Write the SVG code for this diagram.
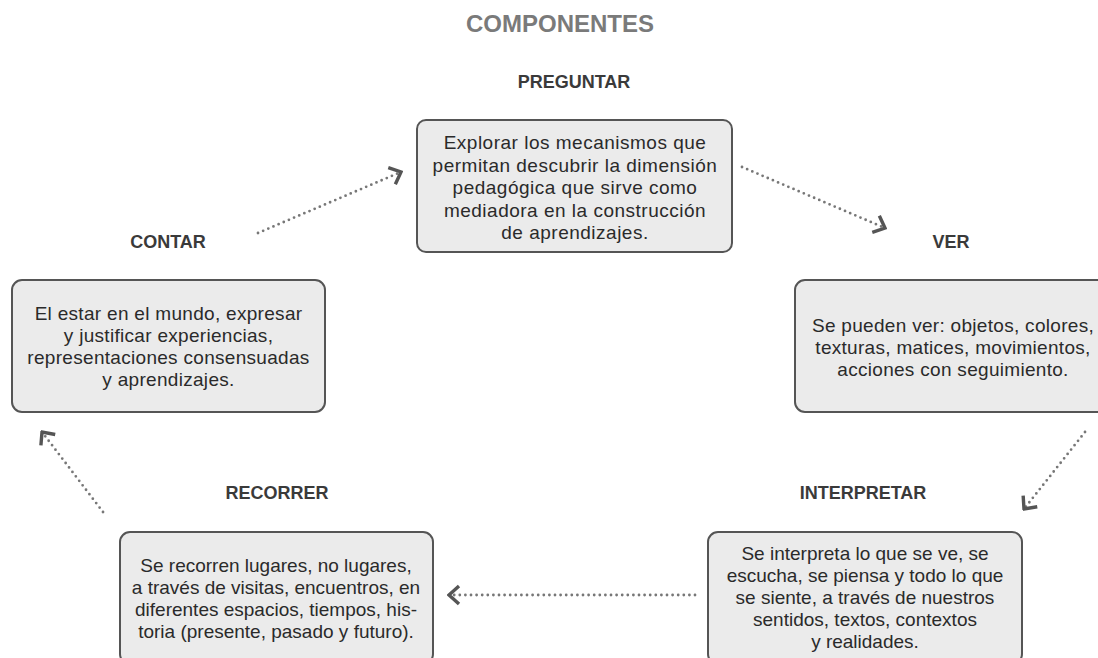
<svg xmlns="http://www.w3.org/2000/svg" width="1098" height="658" viewBox="0 0 1098 658">
<style>
.title{font-family:"Liberation Sans",Arial,sans-serif;font-weight:bold;font-size:24px;fill:#7a7a7a;text-anchor:middle}
.label{font-family:"Liberation Sans",Arial,sans-serif;font-weight:bold;font-size:18px;fill:#3a3a3a;text-anchor:middle}
.body{font-family:"Liberation Sans",Arial,sans-serif;font-size:19px;letter-spacing:0.5px;fill:#2a2a2a;text-anchor:middle}
.tight{letter-spacing:0.3px}
.tighter{letter-spacing:0px}
.box{fill:#ebebeb;stroke:#555;stroke-width:2}
.conn{fill:none;stroke:#777;stroke-width:2.8;stroke-linecap:round;stroke-dasharray:0 5.6}
</style>
<defs>
<marker id="chev" markerUnits="userSpaceOnUse" viewBox="-14 -12 16 24" markerWidth="16" markerHeight="24" refX="0" refY="0" orient="auto">
<path d="M-10,-9 L0,0 L-10,9" fill="none" stroke="#555" stroke-width="3.4" stroke-linejoin="miter"/>
</marker>
</defs>
<rect width="1098" height="658" fill="#fff"/>
<text class="title" x="560" y="32">COMPONENTES</text>

<g id="preguntar">
<text class="label" x="574" y="88">PREGUNTAR</text>
<rect class="box" x="417" y="120" width="315" height="132" rx="9"/>
<text class="body" x="575" y="149">Explorar los mecanismos que</text>
<text class="body" x="575" y="171.5">permitan descubrir la dimensión</text>
<text class="body" x="575" y="194">pedagógica que sirve como</text>
<text class="body" x="575" y="216.5">mediadora en la construcción</text>
<text class="body" x="575" y="239">de aprendizajes.</text>
</g>

<g id="contar">
<text class="label" x="168" y="248">CONTAR</text>
<rect class="box" x="12" y="280" width="313" height="132" rx="10"/>
<text class="body tight" x="168.5" y="320">El estar en el mundo, expresar</text>
<text class="body tight" x="168.5" y="342">y justificar experiencias,</text>
<text class="body tight" x="168.5" y="364">representaciones consensuadas</text>
<text class="body tight" x="168.5" y="386">y aprendizajes.</text>
</g>

<g id="ver">
<text class="label" x="951" y="248">VER</text>
<rect class="box" x="795" y="280" width="313" height="132" rx="10"/>
<text class="body tight" x="953" y="332">Se pueden ver: objetos, colores,</text>
<text class="body tight" x="953" y="354">texturas, matices, movimientos,</text>
<text class="body tight" x="953" y="376">acciones con seguimiento.</text>
</g>

<g id="recorrer">
<text class="label" x="277" y="499">RECORRER</text>
<rect class="box" x="120" y="532" width="313" height="132" rx="10"/>
<text class="body tighter" x="276" y="572">Se recorren lugares, no lugares,</text>
<text class="body tighter" x="276" y="594">a través de visitas, encuentros, en</text>
<text class="body tighter" x="276" y="616">diferentes espacios, tiempos, his-</text>
<text class="body tighter" x="276" y="638">toria (presente, pasado y futuro).</text>
</g>

<g id="interpretar">
<text class="label" x="863" y="499">INTERPRETAR</text>
<rect class="box" x="708" y="532" width="314" height="132" rx="10"/>
<text class="body tighter" x="865" y="560">Se interpreta lo que se ve, se</text>
<text class="body tighter" x="865" y="582">escucha, se piensa y todo lo que</text>
<text class="body tighter" x="865" y="604">se siente, a través de nuestros</text>
<text class="body tighter" x="865" y="626">sentidos, textos, contextos</text>
<text class="body tighter" x="865" y="648">y realidades.</text>
</g>

<g id="connectors">
<path class="conn" d="M258,233 L401,172" marker-end="url(#chev)"/>
<path class="conn" d="M742,167 L885,228" marker-end="url(#chev)"/>
<path class="conn" d="M1085,432 L1024,509" marker-end="url(#chev)"/>
<path class="conn" d="M695,595 L449,595" marker-end="url(#chev)"/>
<path class="conn" d="M103,512 L42,432" marker-end="url(#chev)"/>
</g>
</svg>
